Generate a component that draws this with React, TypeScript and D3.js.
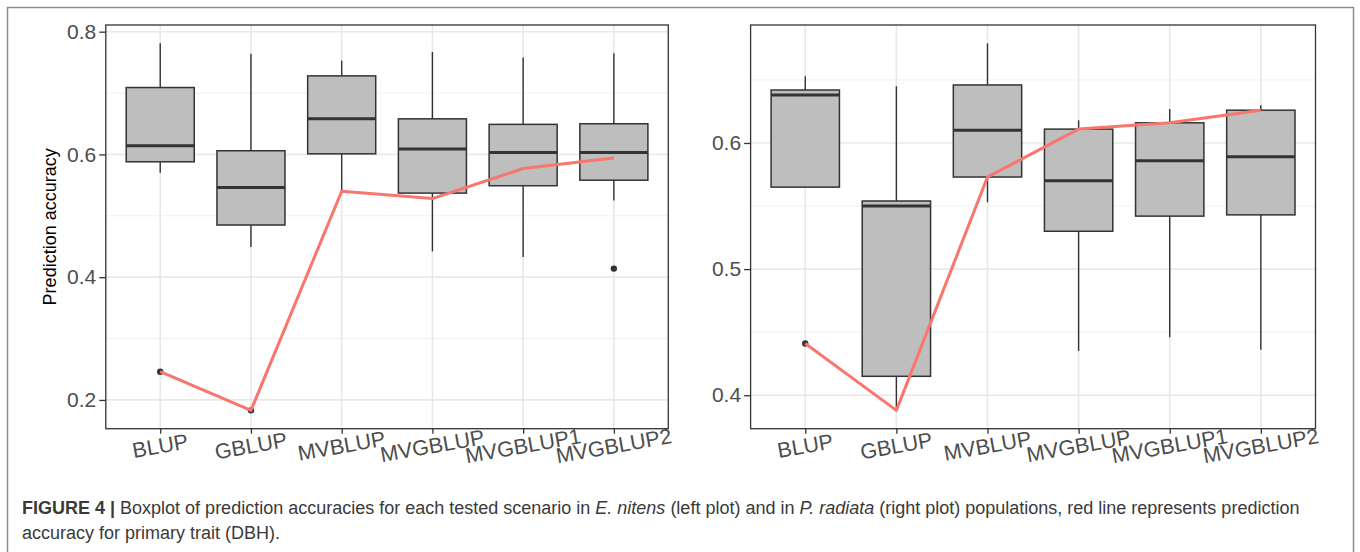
import React, { useEffect, useRef } from "react";
import { select, scaleLinear, scalePoint, axisLeft, axisBottom, line, format } from "d3";

const categories = ["BLUP", "GBLUP", "MVBLUP", "MVGBLUP", "MVGBLUP1", "MVGBLUP2"];

// E. nitens (left plot)
const nitensWhiskerHigh = [0.781, 0.764, 0.753, 0.767, 0.758, 0.765];
const nitensQ3 = [0.709, 0.606, 0.728, 0.658, 0.649, 0.65];
const nitensMedian = [0.614, 0.546, 0.658, 0.609, 0.603, 0.603];
const nitensQ1 = [0.588, 0.485, 0.601, 0.537, 0.549, 0.558];
const nitensWhiskerLow = [0.57, 0.449, 0.54, 0.442, 0.433, 0.525];
const nitensOutliers = [[0.246], [0.183], [], [], [], [0.414]];
const nitensPrimary = [0.246, 0.183, 0.54, 0.528, 0.577, 0.594];
const nitensTicks = [0.2, 0.4, 0.6, 0.8];
const nitensMinor = [0.3, 0.5, 0.7];

// P. radiata (right plot)
const radiataWhiskerHigh = [0.653, 0.645, 0.679, 0.618, 0.627, 0.63];
const radiataQ3 = [0.642, 0.554, 0.646, 0.611, 0.616, 0.626];
const radiataMedian = [0.638, 0.55, 0.61, 0.57, 0.586, 0.589];
const radiataQ1 = [0.565, 0.415, 0.573, 0.53, 0.542, 0.543];
const radiataWhiskerLow = [0.565, 0.389, 0.553, 0.435, 0.446, 0.436];
const radiataOutliers = [[0.441], [], [], [], [], []];
const radiataPrimary = [0.441, 0.388, 0.573, 0.611, 0.616, 0.626];
const radiataTicks = [0.4, 0.5, 0.6];
const radiataMinor = [0.45, 0.55, 0.65];

const width = 1360;
const height = 552;
const panelTop = 25;
const panelBottom = 428.7;
const font = "'Liberation Sans', Arial, Helvetica, sans-serif";

function buildBoxes(hi, q3, med, q1, lo, out) {
  return categories.map((c, i) => ({
    cat: c,
    hi: hi[i],
    q3: q3[i],
    med: med[i],
    q1: q1[i],
    lo: lo[i],
    out: out[i],
  }));
}

const panels = [
  {
    left: 105.8,
    right: 668.3,
    boxes: buildBoxes(nitensWhiskerHigh, nitensQ3, nitensMedian, nitensQ1, nitensWhiskerLow, nitensOutliers),
    primary: nitensPrimary,
    ticks: nitensTicks,
    minor: nitensMinor,
    title: "Prediction accuracy",
  },
  {
    left: 750.6,
    right: 1315.5,
    boxes: buildBoxes(radiataWhiskerHigh, radiataQ3, radiataMedian, radiataQ1, radiataWhiskerLow, radiataOutliers),
    primary: radiataPrimary,
    ticks: radiataTicks,
    minor: radiataMinor,
    title: null,
  },
];

function drawPanel(svg, p) {
  const all = [];
  p.boxes.forEach((b) => all.push(b.hi, b.lo, ...b.out));
  all.push(...p.primary);
  const lo = Math.min(...all);
  const hi = Math.max(...all);
  const pad = (hi - lo) * 0.05;

  const y = scaleLinear().domain([lo - pad, hi + pad]).range([panelBottom, panelTop]);
  const x = scalePoint().domain(categories).range([p.left, p.right]).padding(0.6);
  const bw = x.step() * 0.75;

  const g = svg.append("g");

  g.append("rect")
    .attr("x", p.left)
    .attr("y", panelTop)
    .attr("width", p.right - p.left)
    .attr("height", panelBottom - panelTop)
    .attr("fill", "white");

  // grid
  g.selectAll(".minor")
    .data(p.minor)
    .join("line")
    .attr("x1", p.left)
    .attr("x2", p.right)
    .attr("y1", (d) => y(d))
    .attr("y2", (d) => y(d))
    .attr("stroke", "#f0f0f0")
    .attr("stroke-width", 1);
  g.selectAll(".major")
    .data(p.ticks)
    .join("line")
    .attr("x1", p.left)
    .attr("x2", p.right)
    .attr("y1", (d) => y(d))
    .attr("y2", (d) => y(d))
    .attr("stroke", "#e8e8e8")
    .attr("stroke-width", 1.6);
  g.selectAll(".vgrid")
    .data(categories)
    .join("line")
    .attr("x1", (d) => x(d))
    .attr("x2", (d) => x(d))
    .attr("y1", panelTop)
    .attr("y2", panelBottom)
    .attr("stroke", "#e8e8e8")
    .attr("stroke-width", 1.6);

  // boxes
  const bg = g.selectAll(".box").data(p.boxes).join("g");
  bg.append("line")
    .attr("x1", (d) => x(d.cat))
    .attr("x2", (d) => x(d.cat))
    .attr("y1", (d) => y(d.hi))
    .attr("y2", (d) => y(d.q3))
    .attr("stroke", "#333")
    .attr("stroke-width", 1.4);
  bg.append("line")
    .attr("x1", (d) => x(d.cat))
    .attr("x2", (d) => x(d.cat))
    .attr("y1", (d) => y(d.q1))
    .attr("y2", (d) => y(d.lo))
    .attr("stroke", "#333")
    .attr("stroke-width", 1.4);
  bg.append("rect")
    .attr("x", (d) => x(d.cat) - bw / 2)
    .attr("width", bw)
    .attr("y", (d) => y(d.q3))
    .attr("height", (d) => y(d.q1) - y(d.q3))
    .attr("fill", "#bebebe")
    .attr("stroke", "#333")
    .attr("stroke-width", 1.5);
  bg.append("line")
    .attr("x1", (d) => x(d.cat) - bw / 2)
    .attr("x2", (d) => x(d.cat) + bw / 2)
    .attr("y1", (d) => y(d.med))
    .attr("y2", (d) => y(d.med))
    .attr("stroke", "#333")
    .attr("stroke-width", 3);
  bg.selectAll("circle")
    .data((d) => d.out.map((v) => ({ cat: d.cat, v })))
    .join("circle")
    .attr("cx", (d) => x(d.cat))
    .attr("cy", (d) => y(d.v))
    .attr("r", 3.2)
    .attr("fill", "#333");

  // primary trait line
  const path = line()
    .x((d, i) => x(categories[i]))
    .y((d) => y(d));
  g.append("path")
    .attr("d", path(p.primary))
    .attr("fill", "none")
    .attr("stroke", "#F8766D")
    .attr("stroke-width", 3)
    .attr("stroke-linejoin", "round");

  g.append("rect")
    .attr("x", p.left)
    .attr("y", panelTop)
    .attr("width", p.right - p.left)
    .attr("height", panelBottom - panelTop)
    .attr("fill", "none")
    .attr("stroke", "#333")
    .attr("stroke-width", 1.3);

  // axes
  const ya = g
    .append("g")
    .attr("transform", `translate(${p.left},0)`)
    .call(axisLeft(y).tickValues(p.ticks).tickFormat(format(".1f")).tickSize(6.5).tickPadding(3));
  ya.select(".domain").remove();
  ya.selectAll("line").attr("stroke", "#333").attr("stroke-width", 1.3);
  ya.selectAll("text")
    .attr("fill", "#4d4d4d")
    .style("font-family", font)
    .style("font-size", "21px");

  const xa = g
    .append("g")
    .attr("transform", `translate(0,${panelBottom})`)
    .call(axisBottom(x).tickSize(5).tickFormat(""));
  xa.select(".domain").remove();
  xa.selectAll("line").attr("stroke", "#333").attr("stroke-width", 1.3);

  g.selectAll(".xlab")
    .data(categories)
    .join("text")
    .attr("transform", (d) => `translate(${x(d)},${panelBottom + 17.5}) rotate(-10)`)
    .attr("text-anchor", "middle")
    .attr("dominant-baseline", "central")
    .attr("fill", "#4d4d4d")
    .style("font-family", font)
    .style("font-size", "21.5px")
    .text((d) => d);

  if (p.title) {
    g.append("text")
      .attr("transform", `translate(49.5,${(panelTop + panelBottom) / 2}) rotate(-90)`)
      .attr("text-anchor", "middle")
      .attr("dominant-baseline", "central")
      .attr("fill", "black")
      .style("font-family", font)
      .style("font-size", "18px")
      .text(p.title);
  }
}

function BoxplotFigure() {
  const svgRef = useRef(null);

  useEffect(() => {
    document.body.style.margin = "0";
    const svg = select(svgRef.current);
    svg.selectAll("*").remove();

    svg.append("rect").attr("width", width).attr("height", height).attr("fill", "white");
    svg.append("rect")
      .attr("x", 7.5)
      .attr("y", 7.5)
      .attr("width", 1346)
      .attr("height", 560)
      .attr("fill", "none")
      .attr("stroke", "#8c8c8c")
      .attr("stroke-width", 1.5);

    panels.forEach((p) => drawPanel(svg, p));

    const cap = svg
      .append("text")
      .attr("fill", "#3a3a3a")
      .style("font-family", font)
      .style("font-size", "18px");
    const l1 = cap.append("tspan").attr("x", 22).attr("y", 514);
    l1.append("tspan").attr("font-weight", "bold").text("FIGURE 4 | ");
    l1.append("tspan").text("Boxplot of prediction accuracies for each tested scenario in ");
    l1.append("tspan").attr("font-style", "italic").text("E. nitens");
    l1.append("tspan").text(" (left plot) and in ");
    l1.append("tspan").attr("font-style", "italic").text("P. radiata");
    l1.append("tspan").text(" (right plot) populations, red line represents prediction");
    cap.append("tspan").attr("x", 22).attr("y", 539).text("accuracy for primary trait (DBH).");

    return () => {
      svg.selectAll("*").remove();
    };
  }, []);

  return (
    <svg
      ref={svgRef}
      width={width}
      height={height}
      style={{ position: "absolute", left: 0, top: 0, display: "block" }}
    />
  );
}

export default function App() {
  return <BoxplotFigure />;
}
